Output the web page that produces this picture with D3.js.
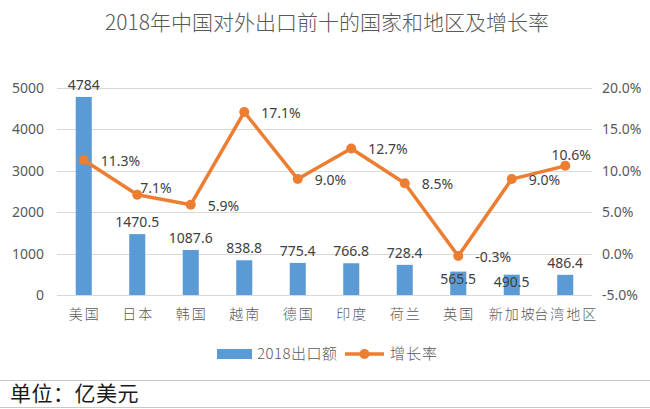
<!DOCTYPE html>
<html>
<head>
<meta charset="utf-8">
<script src="https://cdn.jsdelivr.net/npm/d3@7"></script>
<style>
  body { margin: 0; background: #fff; }
  svg { display: block; }
</style>
</head>
<body>
<svg id="chart" width="650" height="409"></svg>
<script>
// data
const regions = ["美国", "日本", "韩国", "越南", "德国", "印度", "荷兰", "英国", "新加坡", "台湾地区"];
const exports2018 = [4784, 1470.5, 1087.6, 838.8, 775.4, 766.8, 728.4, 565.5, 490.5, 486.4];
const growthRate = [11.3, 7.1, 5.9, 17.1, 9.0, 12.7, 8.5, -0.3, 9.0, 10.6];
const leftTicks = [0, 1000, 2000, 3000, 4000, 5000];
const rightTicks = [-5, 0, 5, 10, 15, 20];

const width = 650;
const height = 409;
const plotTop = 88, plotBottom = 295, plotLeft = 57, plotRight = 592;
const barColor = "#5b9bd5";
const lineColor = "#ed7d31";
const textColor = "#595959";
const numFont = "'Noto Sans', sans-serif";
const cjkFont = "'Noto Sans CJK SC', sans-serif";

const svg = d3.select("#chart");

// title
svg.append("text")
  .attr("x", 327).attr("y", 30)
  .attr("text-anchor", "middle")
  .attr("font-family", cjkFont)
  .attr("font-size", 21)
  .attr("font-weight", 300)
  .attr("fill", textColor)
  .text("2018年中国对外出口前十的国家和地区及增长率");

// scales
const x = d3.scaleBand().domain(regions).range([plotLeft, plotRight]);
const yLeft = d3.scaleLinear().domain([0, 5000]).range([plotBottom, plotTop]);
const yRight = d3.scaleLinear().domain([-5, 20]).range([plotBottom, plotTop]);
const barW = x.bandwidth() * 0.3;

// grid
svg.append("g")
  .selectAll("line")
  .data(leftTicks)
  .join("line")
  .attr("x1", plotLeft).attr("x2", plotRight)
  .attr("y1", (d) => Math.round(yLeft(d)) + 0.5)
  .attr("y2", (d) => Math.round(yLeft(d)) + 0.5)
  .attr("stroke", "#d9d9d9")
  .attr("stroke-width", 1);

// axes
const axL = svg.append("g")
  .attr("transform", `translate(${plotLeft - 13},0)`)
  .call(d3.axisLeft(yLeft).tickValues(leftTicks).tickSize(0).tickPadding(0)
    .tickFormat(d3.format("d")));
const axR = svg.append("g")
  .attr("transform", `translate(${plotRight + 10},0)`)
  .call(d3.axisRight(yRight).tickValues(rightTicks).tickSize(0).tickPadding(0)
    .tickFormat((d) => d.toFixed(1) + "%"));
[axL, axR].forEach((ax) => {
  ax.select(".domain").remove();
  ax.selectAll("text")
    .attr("font-family", numFont)
    .attr("font-size", 14)
    .attr("fill", textColor);
});

const axX = svg.append("g")
  .attr("transform", `translate(0,${plotBottom + 8})`)
  .call(d3.axisBottom(x).tickSize(0).tickPadding(6));
axX.select(".domain").remove();
axX.selectAll("text")
  .attr("font-family", cjkFont)
  .attr("font-size", 14)
  .attr("font-weight", 300)
  .attr("letter-spacing", 2)
  .attr("dx", 1)
  .attr("fill", textColor);

// bars
svg.append("g")
  .selectAll("rect")
  .data(exports2018)
  .join("rect")
  .attr("x", (d, i) => x(regions[i]) + (x.bandwidth() - barW) / 2)
  .attr("y", (d) => yLeft(d))
  .attr("width", barW)
  .attr("height", (d) => yLeft(0) - yLeft(d))
  .attr("fill", barColor);

// bar labels (two were dragged down into the bars)
const barLabelShift = { 7: 20, 8: 19 };
svg.append("g")
  .selectAll("text")
  .data(exports2018)
  .join("text")
  .attr("x", (d, i) => x(regions[i]) + x.bandwidth() / 2)
  .attr("y", (d, i) => yLeft(d) - 12 + (barLabelShift[i] || 0))
  .attr("dy", "0.35em")
  .attr("text-anchor", "middle")
  .attr("font-family", numFont)
  .attr("font-size", 14)
  .attr("fill", "#404040")
  .text((d) => d);

// growth line
const cx = (i) => x(regions[i]) + x.bandwidth() / 2;
const line = d3.line()
  .x((d, i) => cx(i))
  .y((d) => yRight(d));

svg.append("path")
  .datum(growthRate)
  .attr("d", line)
  .attr("fill", "none")
  .attr("stroke", lineColor)
  .attr("stroke-width", 3.5)
  .attr("stroke-linejoin", "round");

svg.append("g")
  .selectAll("circle")
  .data(growthRate)
  .join("circle")
  .attr("cx", (d, i) => cx(i))
  .attr("cy", (d) => yRight(d))
  .attr("r", 5)
  .attr("fill", lineColor);

const lineLabelPos = { 1: [3, -7, "start"], 9: [6, -11, "middle"] };
svg.append("g")
  .selectAll("text")
  .data(growthRate)
  .join("text")
  .attr("x", (d, i) => cx(i) + (lineLabelPos[i] ? lineLabelPos[i][0] : 17))
  .attr("y", (d, i) => yRight(d) + (lineLabelPos[i] ? lineLabelPos[i][1] : 1))
  .attr("dy", "0.35em")
  .attr("text-anchor", (d, i) => (lineLabelPos[i] ? lineLabelPos[i][2] : "start"))
  .attr("font-family", numFont)
  .attr("font-size", 14)
  .attr("fill", "#404040")
  .text((d) => d.toFixed(1) + "%");

// legend
const lg = svg.append("g").attr("transform", "translate(0,354)");
lg.append("rect")
  .attr("x", 217).attr("y", -5)
  .attr("width", 35).attr("height", 10)
  .attr("fill", barColor);
lg.append("text")
  .attr("x", 257).attr("y", 0).attr("dy", "0.35em")
  .attr("font-family", cjkFont).attr("font-size", 15).attr("font-weight", 300)
  .attr("letter-spacing", 0.5).attr("fill", textColor)
  .text("2018出口额");
lg.append("line")
  .attr("x1", 345).attr("x2", 384)
  .attr("y1", 0).attr("y2", 0)
  .attr("stroke", lineColor).attr("stroke-width", 3.5);
lg.append("circle")
  .attr("cx", 364.5).attr("cy", 0).attr("r", 5).attr("fill", lineColor);
lg.append("text")
  .attr("x", 390).attr("y", 0).attr("dy", "0.35em")
  .attr("font-family", cjkFont).attr("font-size", 15).attr("font-weight", 300)
  .attr("letter-spacing", 1).attr("fill", textColor)
  .text("增长率");

// unit note
svg.append("line")
  .attr("x1", 0).attr("x2", width)
  .attr("y1", 380.5).attr("y2", 380.5)
  .attr("stroke", "#c8c8c8");
svg.append("line")
  .attr("x1", 0).attr("x2", width)
  .attr("y1", 407.5).attr("y2", 407.5)
  .attr("stroke", "#c8c8c8");
svg.append("text")
  .attr("x", 10).attr("y", 394).attr("dy", "0.35em")
  .attr("font-family", cjkFont).attr("font-size", 21).attr("letter-spacing", 0.5)
  .attr("fill", "#1a1a1a")
  .text("单位：亿美元");
</script>
</body>
</html>
